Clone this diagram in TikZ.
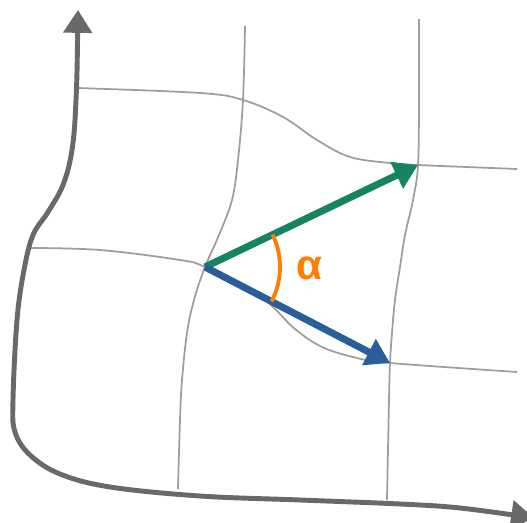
\documentclass[tikz,border=0pt]{standalone}
\usepackage{fontspec}
\newfontfamily\anglefont{Liberation Sans}
\usetikzlibrary{arrows.meta}
\definecolor{AxisGray}{RGB}{105,105,105}
\definecolor{GridGray}{RGB}{158,158,158}
\definecolor{VecGreen}{RGB}{22,132,98}
\definecolor{VecBlue}{RGB}{42,94,152}
\definecolor{AngleOrange}{RGB}{255,128,0}
\tikzset{
  axis/.style={AxisGray,line width=2.8pt,
    arrows={Triangle[length=13pt,width=16pt]-Triangle[length=13pt,width=16pt]}},
  gridline/.style={GridGray,line width=1pt},
  vector/.style={line width=4pt,-{Triangle[length=13.5pt,width=16pt]}},
  anglearc/.style={AngleOrange,line width=2.2pt},
  anglelabel/.style={text=AngleOrange,font=\anglefont\bfseries\fontsize{24}{28}\selectfont,inner sep=0pt}
}

\begin{document}
\begin{tikzpicture}[x=0.02cm,y=-0.02cm]
      \useasboundingbox (0,0) rectangle (527,523);

      % curvilinear grid
      \draw[gridline] plot[smooth,tension=0.6] coordinates
        {(77,88) (200,93) (243,100) (283,117) (317,140) (350,157)
         (390,163) (418,165) (517,169)};
      \draw[gridline] plot[smooth,tension=0.6] coordinates
        {(30,248) (100,250) (180,260) (205,267) (255,292) (275,309)
         (295,329) (322,347) (357,358) (390,363) (517,372)};
      \draw[gridline] plot[smooth,tension=0.6] coordinates
        {(245,26) (243,100) (238,160) (232,200) (219,235) (205,267)
         (194,300) (187,333) (182,380) (180,420) (178,489)};
      \draw[gridline] plot[smooth,tension=0.6] coordinates
        {(419,19) (419,100) (418,165) (413,200) (405,235) (400,267)
         (395,300) (392,333) (390,363) (389,400) (387,500)};

      % axes
      \draw[axis] plot[smooth,tension=0.6] coordinates
        {(78,10) (76,100) (72,150) (63,185) (48,212) (33,235) (24,270)
         (17,320) (13,400) (15,432) (30,455) (60,474) (110,487)
         (200,496) (300,500) (400,504) (460,508) (534,518)};

      % vectors
      \coordinate (origin) at (205,267);
      \coordinate (greentip) at (418,165);
      \coordinate (bluetip) at (390,363);
      \draw[vector,VecGreen] (origin) -- (greentip);
      \draw[vector,VecBlue] (origin) -- (bluetip);

      % angle between them
      \draw[anglearc] ([shift={(-27.4:1.5cm)}]origin)
        arc[start angle=-27.4,end angle=25.6,radius=1.5cm];
      \node[anglelabel] (alpha) at (309,268) {α};
    \end{tikzpicture}
\end{document}
